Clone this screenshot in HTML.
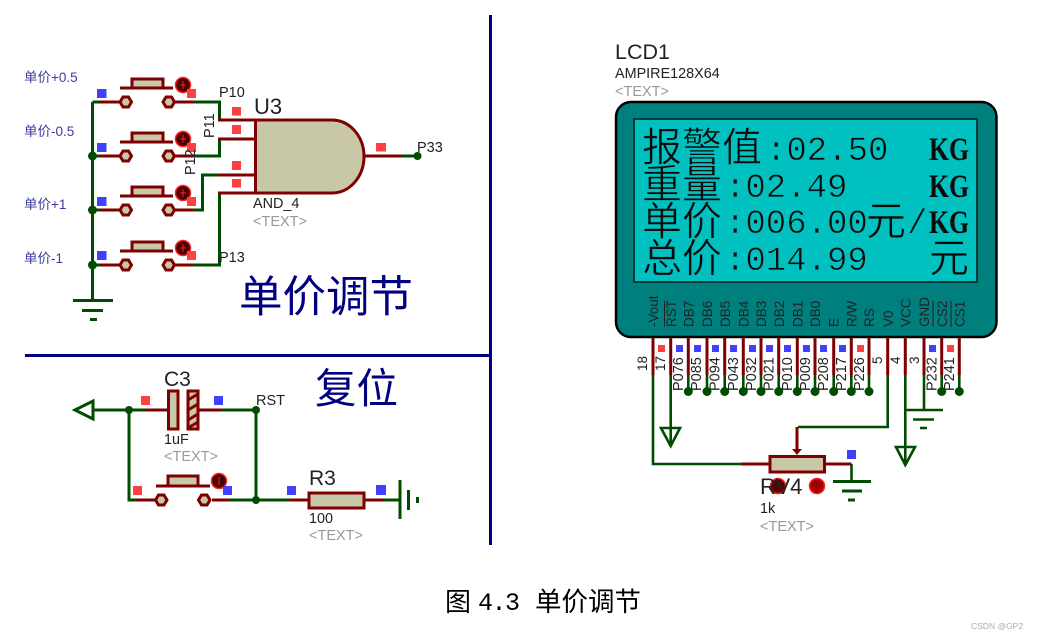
<!DOCTYPE html>
<html><head><meta charset="utf-8"><style>
html,body{margin:0;padding:0;background:#fff;width:1037px;height:639px;overflow:hidden}
svg{display:block}
text{font-family:"Liberation Sans","Noto Sans CJK SC",sans-serif;fill:#222}
.s{font-size:14.400px}.b{font-size:21px}.g{font-size:14.500px;fill:#999}
.l{font-size:13.500px;fill:#3c3ca0}
.n{font-size:14.500px}
.t{font-size:43.500px;fill:#000080}
.c{font-family:"WenQuanYi Zen Hei","Noto Sans CJK SC",sans-serif;font-size:40px;fill:#0a0a0a;stroke:#00c0c0;stroke-width:.6px}
.m{font-family:"Liberation Mono",monospace;font-size:34px;fill:#0a0a0a;stroke:#00c0c0;stroke-width:.7px}
.k{font-family:"Liberation Serif",serif;font-size:33px;font-weight:bold;fill:#0a0a0a}
.r{fill:none;stroke:#7f0000;stroke-width:3}
.w{fill:none;stroke:#004c00;stroke-width:3}
.w2{fill:none;stroke:#004c00;stroke-width:2.600}
.d{fill:#004c00}
.rs{fill:#ff4040}.bs{fill:#4040ff}
.p{font-size:14.500px}
.q{font-size:13.500px}
.pad{fill:#c8c8a8;stroke:#7f0000;stroke-width:3}
</style></head><body>
<svg width="1037" height="639" viewBox="0 0 1037 639" xmlns="http://www.w3.org/2000/svg">
<defs>
<g id="sw">
<path class="r" d="M120 88H173"/>
<rect x="132" y="79" width="31" height="9" fill="#c8c8a8" stroke="#7f0000" stroke-width="3"/>
<path class="r" d="M100 102H119M175 102H193"/>
<path class="pad" d="M120 102l3-5h5.500l3 5-3 5h-5.500z"/>
<path class="pad" d="M163 102l3-5h5.500l3 5-3 5h-5.500z"/>
<circle cx="183" cy="85" r="7.500" fill="#4a0000" stroke="#ff2020" stroke-width="1.500"/>
<path d="M183 81v8M180 85h6" stroke="#ff2020" stroke-width="1"/>
</g>
<g id="gnd">
<path class="w" d="M0 0H40M9 10H30M17 19H24"/>
</g>
</defs>

<!-- separators -->
<path d="M490.500 15V545M25 355.500H490" stroke="#000080" stroke-width="3" fill="none"/>
<text class="t" x="239" y="312">单价调节</text>
<text class="t" x="315" y="403" style="font-size:41.500px">复位</text>

<!-- switches -->
<path class="w" d="M92.500 102V300M92.500 102H100M193 102H219.500V120M193 156H219.500V139M193 210H202.500V175H218M193 265H219.500V193"/>
<path class="w" d="M92.500 156H100M92.500 210H100M92.500 265H100"/>
<use href="#sw"/>
<use href="#sw" y="54"/>
<use href="#sw" y="108"/>
<use href="#sw" y="163"/>
<circle class="d" cx="92.500" cy="156" r="4.500"/><circle class="d" cx="92.500" cy="210" r="4.500"/><circle class="d" cx="92.500" cy="265" r="4.500"/>
<use href="#gnd" x="73" y="300.500"/>
<g class="bs"><rect x="97" y="89" width="9.500" height="9"/><rect x="97" y="143" width="9.500" height="9"/><rect x="97" y="197" width="9.500" height="9"/><rect x="97" y="251" width="9.500" height="9"/></g>
<g class="rs"><rect x="187" y="89" width="9" height="9"/><rect x="187" y="143" width="9" height="9"/><rect x="187" y="197" width="9" height="9"/><rect x="187" y="251" width="9" height="9"/></g>
<text class="l" x="24" y="82">单价+0.5</text>
<text class="l" x="24" y="136">单价-0.5</text>
<text class="l" x="24" y="209">单价+1</text>
<text class="l" x="24" y="263">单价-1</text>

<!-- gate -->
<path d="M255.500 120H332A32 36.500 0 0 1 332 193H255.500Z" fill="#c8c8a8" stroke="#7f0000" stroke-width="3"/>
<path class="r" d="M218 120H255M218 139H255M218 175H255M218 193H255M364 156H402"/>
<path class="w" d="M402 156H417"/><circle class="d" cx="417.500" cy="156" r="4"/>
<g class="rs"><rect x="232" y="107" width="9" height="8.500"/><rect x="232" y="125" width="9" height="9"/><rect x="232" y="161" width="9" height="9"/><rect x="232" y="179" width="9" height="8.500"/><rect x="376" y="143" width="10" height="8.500"/></g>
<text class="n" x="219" y="97">P10</text>
<text class="n" x="417" y="152">P33</text>
<text class="n" x="219" y="262">P13</text>
<text class="n" transform="translate(214 138) rotate(-90)">P11</text>
<text class="n" transform="translate(195 175) rotate(-90)">P12</text>
<text x="254" y="114" style="font-size:22px">U3</text>
<text class="s" x="253" y="208">AND_4</text>
<text class="g" x="253" y="226">&lt;TEXT&gt;</text>

<!-- reset -->
<path class="w" d="M85 410H145M221 410H256V500M129 410V500H136M230 500H290"/>
<path d="M75 410L93 401V419Z" fill="#fff" stroke="#004c00" stroke-width="3"/>
<path class="r" d="M145 410H168M199 410H221M136 500H155M212 500H230M290 500H308M365 500H384"/>
<rect x="168.500" y="391" width="9.500" height="38" fill="#c8c8a8" stroke="#7f0000" stroke-width="3"/>
<rect x="188" y="391" width="10" height="38" fill="#c8c8a8" stroke="#7f0000" stroke-width="3"/>
<path d="M188 400l10-6M188 410l10-6M188 420l10-6M188 428l10-6" stroke="#7f0000" stroke-width="3"/>
<circle class="d" cx="129" cy="410" r="4"/><circle class="d" cx="256" cy="410" r="4"/><circle class="d" cx="256" cy="500" r="4"/>
<path class="r" d="M156 486H210"/>
<rect x="168" y="476" width="30" height="10" fill="#c8c8a8" stroke="#7f0000" stroke-width="3"/>
<path class="pad" d="M155.500 500l3-5h5.500l3 5-3 5h-5.500z"/>
<path class="pad" d="M198.500 500l3-5h5.500l3 5-3 5h-5.500z"/>
<circle cx="219" cy="481" r="7.500" fill="#4a0000" stroke="#ff2020" stroke-width="1.500"/>
<path d="M219 477v8" stroke="#ff2020"/>
<rect x="309" y="493" width="55" height="15" fill="#c8c8a8" stroke="#7f0000" stroke-width="3"/>
<path class="w" d="M384 500H400M400 480V519M408.500 490V510"/><path d="M417.500 497V503" stroke="#004c00" stroke-width="3"/>
<g class="rs"><rect x="141" y="396" width="9" height="9"/><rect x="133" y="486" width="9" height="9"/></g>
<g class="bs"><rect x="214" y="396" width="9" height="9"/><rect x="223" y="486" width="9" height="9"/><rect x="287" y="486" width="9" height="9"/><rect x="376" y="485" width="10" height="10"/></g>
<text class="b" x="164" y="386">C3</text>
<text class="n" x="256" y="405">RST</text>
<text class="s" x="164" y="444">1uF</text>
<text class="g" x="164" y="461">&lt;TEXT&gt;</text>
<text class="b" x="309" y="485">R3</text>
<text class="s" x="309" y="523">100</text>
<text class="g" x="309" y="540">&lt;TEXT&gt;</text>

<!-- LCD -->
<text x="615" y="59" style="font-size:21.500px">LCD1</text>
<text class="s" x="615" y="78">AMPIRE128X64</text>
<text class="g" x="615" y="96">&lt;TEXT&gt;</text>
<rect x="616" y="102" width="380.500" height="235" rx="15" fill="#007f7f" stroke="#000" stroke-width="2.500"/>
<rect x="634" y="119" width="343" height="163" fill="#00c0c0" stroke="#003c3c" stroke-width="2"/>
<text class="c" x="642" y="161">报警值</text><text class="m" x="766" y="160">:02.50</text><text class="k" x="929" y="160" textLength="40" lengthAdjust="spacingAndGlyphs">KG</text>
<text class="c" x="642" y="198">重量</text><text class="m" x="725" y="197">:02.49</text><text class="k" x="929" y="197" textLength="40" lengthAdjust="spacingAndGlyphs">KG</text>
<text class="c" x="642" y="235">单价</text><text class="m" x="725" y="233">:006.00</text><text class="c" x="866" y="235">元</text><text class="m" x="907" y="233">/</text><text class="k" x="929" y="233" textLength="40" lengthAdjust="spacingAndGlyphs">KG</text>
<text class="c" x="642" y="272">总价</text><text class="m" x="725" y="270">:014.99</text><text class="c" x="929" y="272">元</text>

<!-- pin labels inside -->
<g class="q">
<text transform="translate(658 327) rotate(-90)">-Vout</text>
<text transform="translate(676 327) rotate(-90)">RST</text>
<text transform="translate(693.500 327) rotate(-90)">DB7</text>
<text transform="translate(712 327) rotate(-90)">DB6</text>
<text transform="translate(730 327) rotate(-90)">DB5</text>
<text transform="translate(748.500 327) rotate(-90)">DB4</text>
<text transform="translate(766 327) rotate(-90)">DB3</text>
<text transform="translate(784 327) rotate(-90)">DB2</text>
<text transform="translate(802.500 327) rotate(-90)">DB1</text>
<text transform="translate(820 327) rotate(-90)">DB0</text>
<text transform="translate(838.500 327) rotate(-90)">E</text>
<text transform="translate(856.500 327) rotate(-90)">R/W</text>
<text transform="translate(874 327) rotate(-90)">RS</text>
<text transform="translate(893 327) rotate(-90)">V0</text>
<text transform="translate(910.500 327) rotate(-90)">VCC</text>
<text transform="translate(929 327) rotate(-90)">GND</text>
<text transform="translate(947 327) rotate(-90)">CS2</text>
<text transform="translate(964.500 327) rotate(-90)">CS1</text>
</g>
<path d="M664.500 301V327M933 301V327M951 301V327" stroke="#222" stroke-width="1" fill="none"/>

<!-- pins -->
<path class="r" d="M653 338V375M670.700 338V375M688.300 338V375M707 338V375M724.700 338V375M743.300 338V375M761 338V375M778.700 338V375M797.300 338V375M815 338V375M833.700 338V375M851.300 338V375M869 338V375M887.700 338V375M905.300 338V375M924 338V375M941.700 338V375M959.300 338V375" stroke-width="2.500"/>
<path class="w2" d="M653 375V464H741M670.700 375V445M688.300 375V391M707 375V391M724.700 375V391M743.300 375V391M761 375V391M778.700 375V391M797.300 375V391M815 375V391M833.700 375V391M851.300 375V391M869 375V391M887.700 375V427H798M905.300 375V463M905.300 410H943M924 375V410M941.700 375V391M959.300 375V391M851.500 464V481"/>
<path class="w2" d="M913 419.500H934M920 428H927"/>
<path d="M661 428H680L670.700 446Z" fill="#fff" stroke="#004c00" stroke-width="2.600"/>
<path d="M670.700 428V446" class="w2"/>
<path d="M896 447H915L905.300 465Z" fill="#fff" stroke="#004c00" stroke-width="2.600"/>
<path d="M905.300 447V465" class="w2"/>
<g class="bs"><rect x="676" y="345" width="7" height="7"/><rect x="694" y="345" width="7" height="7"/><rect x="712" y="345" width="7" height="7"/><rect x="730" y="345" width="7" height="7"/><rect x="749" y="345" width="7" height="7"/><rect x="766" y="345" width="7" height="7"/><rect x="784" y="345" width="7" height="7"/><rect x="803" y="345" width="7" height="7"/><rect x="820" y="345" width="7" height="7"/><rect x="839" y="345" width="7" height="7"/><rect x="929" y="345" width="7" height="7"/><rect x="847" y="450" width="9" height="9"/></g>
<g class="rs"><rect x="658" y="345" width="7" height="7"/><rect x="857" y="345" width="7" height="7"/><rect x="947" y="345" width="7" height="7"/></g>
<g class="q">
<text transform="translate(647 371) rotate(-90)">18</text>
<text transform="translate(665 371) rotate(-90)">17</text>
<text transform="translate(882 364) rotate(-90)">5</text>
<text transform="translate(900 364) rotate(-90)">4</text>
<text transform="translate(919 364) rotate(-90)">3</text>
</g>
<g class="p">
<text transform="translate(683 391) rotate(-90)">P076</text>
<text transform="translate(701 391) rotate(-90)">P085</text>
<text transform="translate(719.500 391) rotate(-90)">P094</text>
<text transform="translate(738 391) rotate(-90)">P043</text>
<text transform="translate(756 391) rotate(-90)">P032</text>
<text transform="translate(773.500 391) rotate(-90)">P021</text>
<text transform="translate(792 391) rotate(-90)">P010</text>
<text transform="translate(810 391) rotate(-90)">P009</text>
<text transform="translate(828 391) rotate(-90)">P208</text>
<text transform="translate(846 391) rotate(-90)">P217</text>
<text transform="translate(864 391) rotate(-90)">P226</text>
<text transform="translate(936.500 391) rotate(-90)">P232</text>
<text transform="translate(954 391) rotate(-90)">P241</text>
</g>
<g class="d"><circle cx="688.300" cy="391.500" r="4.500"/><circle cx="707" cy="391.500" r="4.500"/><circle cx="724.700" cy="391.500" r="4.500"/><circle cx="743.300" cy="391.500" r="4.500"/><circle cx="761" cy="391.500" r="4.500"/><circle cx="778.700" cy="391.500" r="4.500"/><circle cx="797.300" cy="391.500" r="4.500"/><circle cx="815" cy="391.500" r="4.500"/><circle cx="833.700" cy="391.500" r="4.500"/><circle cx="851.300" cy="391.500" r="4.500"/><circle cx="869" cy="391.500" r="4.500"/><circle cx="941.700" cy="391.500" r="4.500"/><circle cx="959.300" cy="391.500" r="4.500"/></g>

<!-- pot -->
<path class="r" d="M741 464H769M825 464H851.500M797 427V452"/>
<path d="M792 449H802L797 455Z" fill="#7f0000"/>
<rect x="770" y="456.500" width="54.500" height="15.500" fill="#c8c8a8" stroke="#7f0000" stroke-width="3"/>
<circle cx="778" cy="486" r="7.500" fill="#5a0000" stroke="#ff2020" stroke-width="1.500"/>
<circle cx="817" cy="486" r="7.500" fill="#a00000" stroke="#ff2020" stroke-width="1.500"/>
<path class="w" d="M833 481.500H871M842 491H862M848 500H855"/>
<text x="760" y="494" style="font-size:22px">RV4</text>
<text class="s" x="760" y="513">1k</text>
<text class="g" x="760" y="531">&lt;TEXT&gt;</text>

<!-- caption -->
<text x="445" y="611" style="font-size:26px;fill:#000;font-family:'WenQuanYi Zen Hei','Noto Sans CJK SC',sans-serif">图</text>
<text x="478" y="610" style="font-size:25px;fill:#000;font-family:'Liberation Mono',monospace" textLength="42">4.3</text>
<text x="535" y="611" style="font-size:26.500px;fill:#000;font-family:'WenQuanYi Zen Hei','Noto Sans CJK SC',sans-serif">单价调节</text>
<text x="971" y="629" style="font-size:8.500px;fill:#aaa">CSDN @GP2</text>
</svg>
</body></html>
